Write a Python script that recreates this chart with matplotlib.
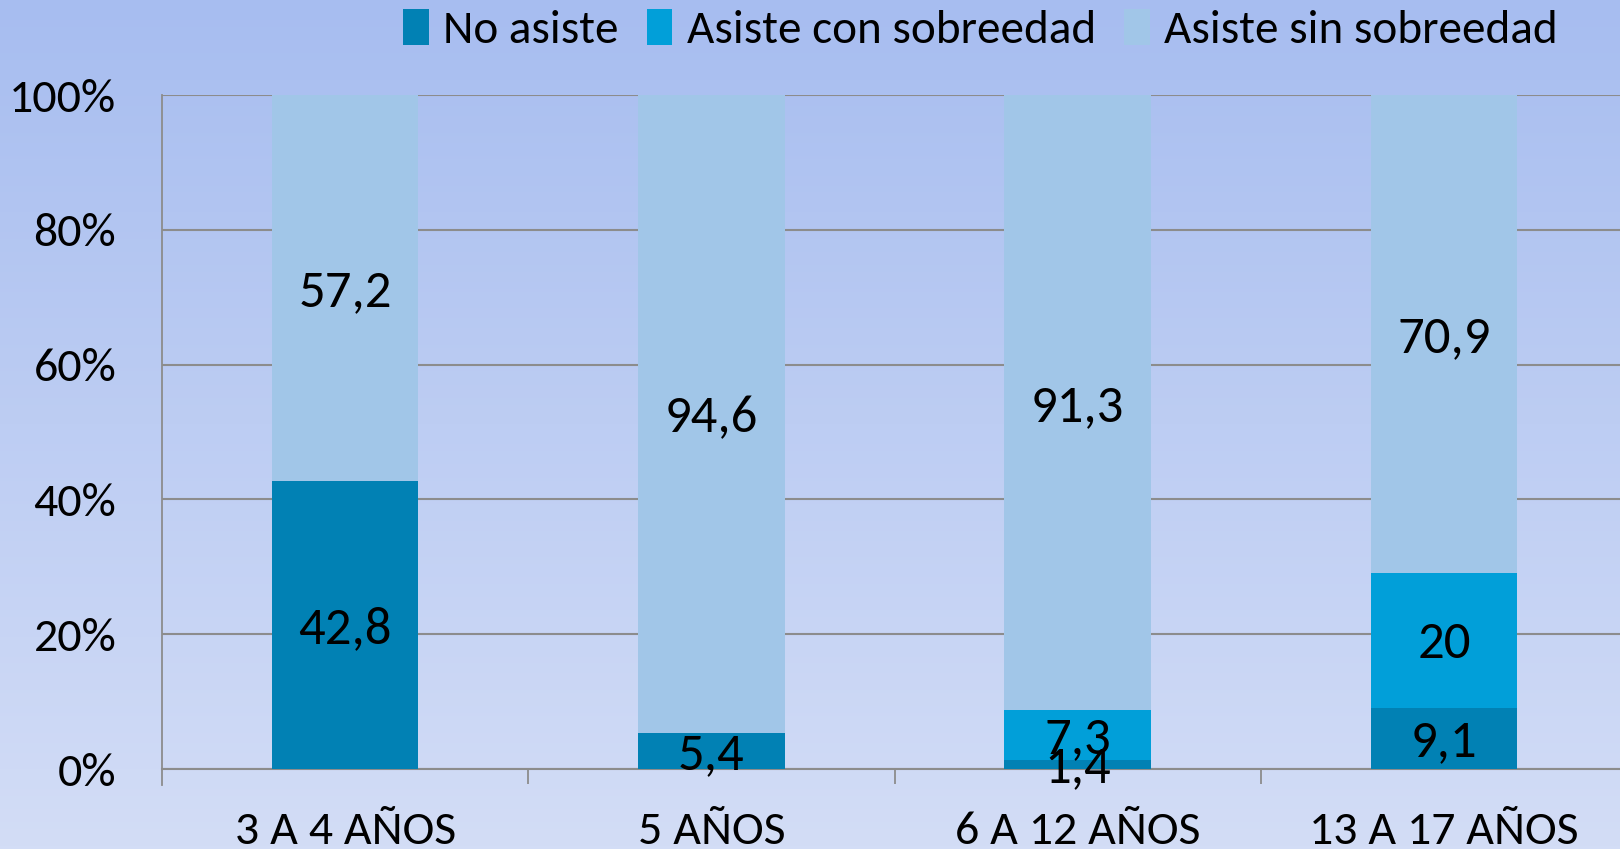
import numpy as np
import matplotlib
matplotlib.use("Agg")
import matplotlib.pyplot as plt
from matplotlib import font_manager
from matplotlib.colors import LinearSegmentedColormap
from matplotlib.ticker import MultipleLocator, FixedLocator, PercentFormatter

categories = ["3 A 4 AÑOS", "5 AÑOS", "6 A 12 AÑOS", "13 A 17 AÑOS"]
series_names = ["No asiste", "Asiste con sobreedad", "Asiste sin sobreedad"]
no_asiste = [42.8, 5.4, 1.4, 9.1]
con_sobreedad = [0, 0, 7.3, 20]
sin_sobreedad = [57.2, 94.6, 91.3, 70.9]
colors = ["#0181b4", "#019fd9", "#a1c6e8"]

available = {f.name for f in font_manager.fontManager.ttflist}
prefs = ['Carlito', 'Liberation Sans Narrow', 'DejaVu Sans Condensed', 'Lato', 'DejaVu Sans']
fam = [p for p in prefs if p in available]
plt.rcParams['font.family'] = fam[:1] + ['DejaVu Sans']

W, H = 1620, 849
fig = plt.figure(figsize=(W / 100, H / 100), dpi=100)

# background gradient
bg = fig.add_axes([0, 0, 1, 1], zorder=-10)
cmap = LinearSegmentedColormap.from_list("bg", ["#a7bdf0", "#d3ddf6"])
grad = np.linspace(0, 1, 256).reshape(-1, 1)
bg.imshow(grad, aspect="auto", cmap=cmap, extent=[0, 1, 0, 1], origin="upper")
bg.axis("off")

left, right, top, bottom = 162, 1627, 95, 769
ax = fig.add_axes([left / W, 1 - bottom / H, (right - left) / W, (bottom - top) / H])
ax.patch.set_alpha(0)

x = np.arange(len(categories))
width = 0.4
series = [no_asiste, con_sobreedad, sin_sobreedad]
base = np.zeros(len(categories))
totals = np.sum(series, axis=0)
for vals, c, name in zip(series, colors, series_names):
    v = np.array(vals) / totals * 100
    ax.bar(x, v, width, bottom=base, color=c, label=name, zorder=3)
    for xi, b, vi, raw in zip(x, base, v, vals):
        if raw > 0:
            ax.annotate(f"{raw:g}".replace(".", ","), (xi, b + vi / 2), xytext=(0, -3),
                        textcoords="offset points", ha="center", va="center",
                        fontsize=38, color="black", zorder=5)
    base += v

ax.set_xlim(-0.5, 3.5)
ax.set_ylim(0, 100)
ax.yaxis.set_major_locator(MultipleLocator(20))
ax.yaxis.set_major_formatter(PercentFormatter(decimals=0))
ax.grid(axis="y", color="#8c8c8c", linewidth=1.5, zorder=0)
ax.set_axisbelow(True)

ax.set_xticks(x)
ax.set_xticklabels(categories)
ax.xaxis.set_minor_locator(FixedLocator([0.5, 1.5, 2.5]))
ax.tick_params(axis="x", which="major", length=0, pad=30, labelsize=34.5)
ax.tick_params(axis="x", which="minor", length=11, width=1.3, color="#8c8c8c")
ax.tick_params(axis="y", length=0, pad=33, labelsize=34.5)

for s in ["top", "right"]:
    ax.spines[s].set_visible(False)
ax.spines["left"].set_color("#8c8c8c")
ax.spines["left"].set_linewidth(1.3)
ax.spines["left"].set_bounds(0, 100)
ax.spines["bottom"].set_color("#8c8c8c")
ax.spines["bottom"].set_linewidth(1.5)
ax.plot([-0.5, -0.5], [0, -2.3], color="#8c8c8c", lw=1.3, clip_on=False)

leg = fig.legend(loc="center right", bbox_to_anchor=(1577 / W, 1 - 30 / H), ncol=3,
                 frameon=False, fontsize=34, handlelength=0.55, handleheight=0.8,
                 handletextpad=0.3, columnspacing=0.6, borderaxespad=0)

fig.savefig("out.png", dpi=100)
